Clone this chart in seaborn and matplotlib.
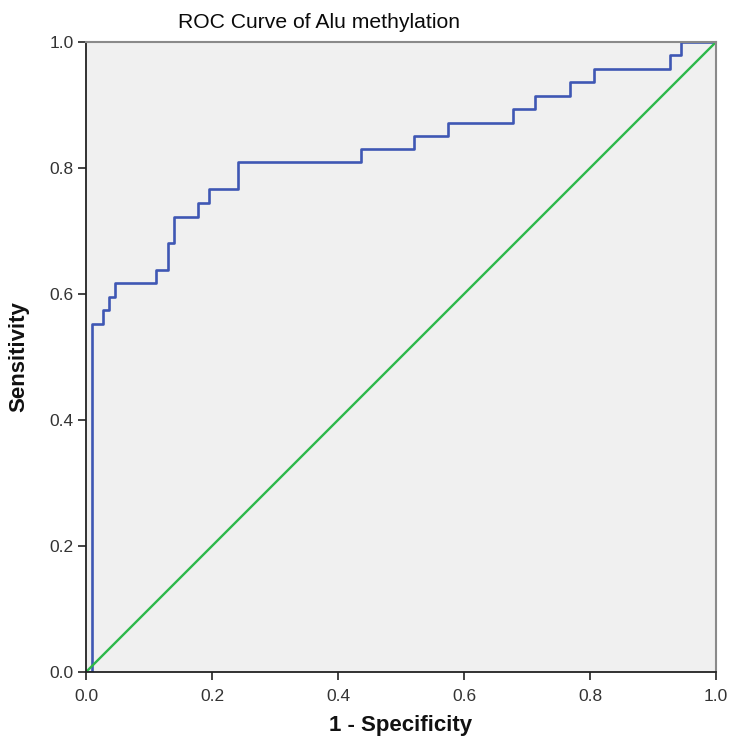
import matplotlib
matplotlib.use("Agg")
import matplotlib.pyplot as plt
import seaborn as sns
import pandas as pd

# ROC step corner points (steps-post)
fpr = [0.0, 0.0095, 0.0275, 0.037, 0.0466, 0.111, 0.130, 0.139, 0.177, 0.195,
       0.242, 0.437, 0.520, 0.575, 0.677, 0.713, 0.769, 0.806, 0.927, 0.945, 1.0]
tpr = [0.0, 0.553, 0.574, 0.596, 0.617, 0.638, 0.681, 0.723, 0.745, 0.766,
       0.809, 0.830, 0.851, 0.872, 0.894, 0.915, 0.936, 0.957, 0.979, 1.0, 1.0]
ref_x = [0.0, 1.0]
ref_y = [0.0, 1.0]
ticks = [0.0, 0.2, 0.4, 0.6, 0.8, 1.0]
tick_labels = ["0.0", "0.2", "0.4", "0.6", "0.8", "1.0"]

sns.set_style("white", {"axes.facecolor": "#f0f0f0"})
plt.rcParams['font.family'] = ['Liberation Sans', 'DejaVu Sans']

fig = plt.figure(figsize=(7.30, 7.46), dpi=100)
ax = fig.add_axes([86/730, 74/746, 630/730, 630/746])

roc = pd.DataFrame({"fpr": fpr, "tpr": tpr})
sns.lineplot(data=roc, x="fpr", y="tpr", drawstyle="steps-post", estimator=None,
             sort=False, color="#3f57b4", linewidth=1.9, ax=ax)
sns.lineplot(x=ref_x, y=ref_y, color="#2db84a", linewidth=1.7, estimator=None,
             sort=False, ax=ax)

ax.set_xlim(0, 1)
ax.set_ylim(0, 1)
ax.set_xticks(ticks)
ax.set_xticklabels(tick_labels)
ax.set_yticks(ticks)
ax.set_yticklabels(tick_labels)
ax.tick_params(axis="both", direction="out", length=6, width=1.2, color="#222222",
               labelsize=12.5, labelcolor="#333333", left=True, bottom=True)
ax.tick_params(axis="x", pad=6)
ax.tick_params(axis="y", pad=3)

for s in ["left", "bottom"]:
    ax.spines[s].set_color("#222222")
    ax.spines[s].set_linewidth(1.3)
for s in ["top", "right"]:
    ax.spines[s].set_color("#8a8a8a")
    ax.spines[s].set_linewidth(1.5)

fig.text(319/730, 1 - 23/746, "ROC Curve of Alu methylation", fontsize=15.2,
         color="#0a0a0a", ha="center", va="center")
ax.set_xlabel("1 - Specificity", fontsize=16, fontweight="bold", color="#111111")
ax.xaxis.set_label_coords(0.5, -(725 - 672) / 630)
ax.xaxis.label.set_verticalalignment("center")
ax.set_ylabel("Sensitivity", fontsize=16, fontweight="bold", color="#111111")
ax.yaxis.set_label_coords(-(86 - 19) / 630, 0.5)
ax.yaxis.label.set_verticalalignment("center")

fig.savefig("out.png", dpi=100)
